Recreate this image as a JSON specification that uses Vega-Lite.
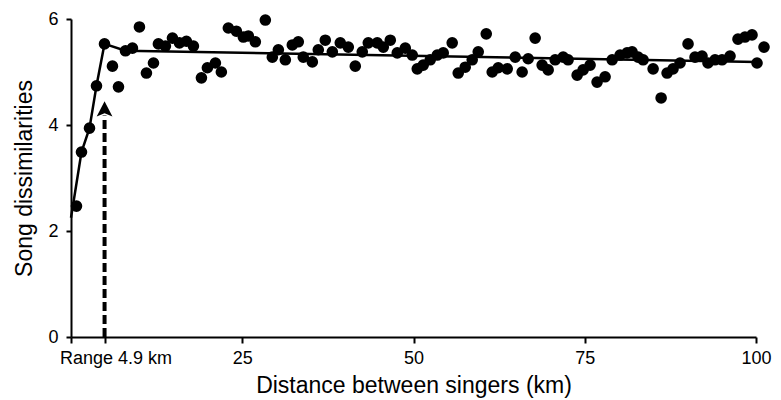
{
  "$schema": "https://vega.github.io/schema/vega-lite/v6.json",
  "width": 685,
  "height": 318,
  "autosize": "none",
  "padding": {"left": 71, "top": 19, "right": 25, "bottom": 63},
  "background": "white",
  "config": {
    "view": {"stroke": null},
    "font": "Liberation Sans"
  },
  "datasets": {
    "points": [
      {"d": 0.80, "s": 2.47}, {"d": 1.53, "s": 3.49}, {"d": 2.70, "s": 3.94}, {"d": 3.72, "s": 4.74},
      {"d": 4.89, "s": 5.53}, {"d": 6.05, "s": 5.11}, {"d": 6.93, "s": 4.72}, {"d": 7.95, "s": 5.40},
      {"d": 8.97, "s": 5.45}, {"d": 9.99, "s": 5.85}, {"d": 11.01, "s": 4.98}, {"d": 12.04, "s": 5.17},
      {"d": 12.76, "s": 5.53}, {"d": 13.78, "s": 5.49}, {"d": 14.81, "s": 5.64}, {"d": 15.83, "s": 5.55},
      {"d": 16.85, "s": 5.58}, {"d": 17.87, "s": 5.49}, {"d": 19.04, "s": 4.89}, {"d": 19.91, "s": 5.08},
      {"d": 21.08, "s": 5.17}, {"d": 21.95, "s": 5.00}, {"d": 22.97, "s": 5.83}, {"d": 24.14, "s": 5.77},
      {"d": 25.16, "s": 5.66}, {"d": 25.89, "s": 5.68}, {"d": 26.91, "s": 5.57}, {"d": 28.37, "s": 5.98},
      {"d": 29.39, "s": 5.28}, {"d": 30.27, "s": 5.42}, {"d": 31.29, "s": 5.23}, {"d": 32.31, "s": 5.51},
      {"d": 33.18, "s": 5.57}, {"d": 33.91, "s": 5.28}, {"d": 35.23, "s": 5.19}, {"d": 36.10, "s": 5.42},
      {"d": 37.12, "s": 5.60}, {"d": 38.15, "s": 5.38}, {"d": 39.31, "s": 5.55}, {"d": 40.48, "s": 5.47},
      {"d": 41.50, "s": 5.11}, {"d": 42.52, "s": 5.38}, {"d": 43.40, "s": 5.55}, {"d": 44.71, "s": 5.55},
      {"d": 45.59, "s": 5.47}, {"d": 46.61, "s": 5.60}, {"d": 47.63, "s": 5.36}, {"d": 48.80, "s": 5.45},
      {"d": 49.82, "s": 5.32}, {"d": 50.55, "s": 5.06}, {"d": 51.42, "s": 5.13}, {"d": 52.44, "s": 5.23},
      {"d": 53.47, "s": 5.32}, {"d": 54.34, "s": 5.36}, {"d": 55.65, "s": 5.55}, {"d": 56.53, "s": 4.98},
      {"d": 57.55, "s": 5.09}, {"d": 58.57, "s": 5.23}, {"d": 59.45, "s": 5.38}, {"d": 60.62, "s": 5.72},
      {"d": 61.49, "s": 5.00}, {"d": 62.37, "s": 5.08}, {"d": 63.68, "s": 5.06}, {"d": 64.85, "s": 5.28},
      {"d": 65.86, "s": 5.00}, {"d": 66.74, "s": 5.25}, {"d": 67.76, "s": 5.64}, {"d": 68.78, "s": 5.13},
      {"d": 69.66, "s": 5.04}, {"d": 70.68, "s": 5.23}, {"d": 71.85, "s": 5.28}, {"d": 72.57, "s": 5.23},
      {"d": 73.89, "s": 4.94}, {"d": 74.76, "s": 5.04}, {"d": 75.78, "s": 5.13}, {"d": 76.80, "s": 4.81},
      {"d": 77.97, "s": 4.91}, {"d": 79.00, "s": 5.23}, {"d": 80.16, "s": 5.32}, {"d": 81.18, "s": 5.36},
      {"d": 81.91, "s": 5.38}, {"d": 82.79, "s": 5.28}, {"d": 83.52, "s": 5.23}, {"d": 84.98, "s": 5.06},
      {"d": 86.15, "s": 4.51}, {"d": 87.02, "s": 4.98}, {"d": 87.89, "s": 5.06}, {"d": 88.91, "s": 5.17},
      {"d": 90.08, "s": 5.53}, {"d": 91.10, "s": 5.28}, {"d": 92.12, "s": 5.30}, {"d": 92.99, "s": 5.17},
      {"d": 94.02, "s": 5.23}, {"d": 95.04, "s": 5.23}, {"d": 96.21, "s": 5.30}, {"d": 97.37, "s": 5.62},
      {"d": 98.39, "s": 5.66}, {"d": 99.42, "s": 5.70}, {"d": 100.15, "s": 5.17}, {"d": 101.17, "s": 5.47}
    ],
    "fit": [
      {"d": 0.0, "s": 2.25}, {"d": 1.53, "s": 3.49}, {"d": 2.70, "s": 3.94}, {"d": 3.72, "s": 4.74},
      {"d": 4.89, "s": 5.53}, {"d": 7.95, "s": 5.40}, {"d": 100.15, "s": 5.19}
    ],
    "arrow": [
      {"d": 4.9, "s0": 0, "s1": 4.18, "head": 4.25}
    ]
  },
  "layer": [
    {
      "data": {"name": "fit"},
      "mark": {"type": "line", "color": "black", "strokeWidth": 2.5},
      "encoding": {
        "x": {"field": "d", "type": "quantitative", "scale": {"domain": [0, 100], "nice": false, "zero": false},
          "axis": {
            "values": [0, 4.9, 25, 50, 75, 100],
            "labelExpr": "datum.value == 4.9 ? 'Range 4.9 km' : (datum.value == 0 ? '' : datum.label)",
            "labelOffset": {"condition": {"test": "datum.value == 4.9", "value": 11}, "value": 0},
            "grid": false,
            "domainColor": "black", "domainWidth": 2,
            "tickColor": "black", "tickWidth": 2, "tickSize": 6,
            "labelFontSize": 18, "labelColor": "black", "labelPadding": 6, "labelFlush": false,
            "title": "Distance between singers (km)",
            "titleFontSize": 23, "titleFontWeight": "normal", "titleColor": "black", "titlePadding": 7
          }
        },
        "y": {"field": "s", "type": "quantitative", "scale": {"domain": [0, 6], "nice": false},
          "axis": {
            "values": [0, 2, 4, 6],
            "grid": false,
            "domainColor": "black", "domainWidth": 2,
            "tickColor": "black", "tickWidth": 2, "tickSize": 5,
            "labelFontSize": 18, "labelColor": "black", "labelPadding": 8,
            "title": "Song dissimilarities",
            "titleFontSize": 23, "titleFontWeight": "normal", "titleColor": "black", "titlePadding": 11
          }
        }
      }
    },
    {
      "data": {"name": "points"},
      "mark": {"type": "point", "shape": "circle", "filled": true, "color": "black", "opacity": 1, "size": 135},
      "encoding": {
        "x": {"field": "d", "type": "quantitative"},
        "y": {"field": "s", "type": "quantitative"}
      }
    },
    {
      "data": {"name": "arrow"},
      "mark": {"type": "rule", "color": "black", "strokeWidth": 4, "strokeDash": [9, 4]},
      "encoding": {
        "x": {"field": "d", "type": "quantitative"},
        "y": {"field": "s0", "type": "quantitative"},
        "y2": {"field": "s1"}
      }
    },
    {
      "data": {"name": "arrow"},
      "mark": {"type": "point", "shape": "M0,-1L0.75,0.45L0,0.15L-0.75,0.45Z", "filled": true, "color": "black", "opacity": 1, "size": 440},
      "encoding": {
        "x": {"field": "d", "type": "quantitative"},
        "y": {"field": "head", "type": "quantitative"}
      }
    }
  ]
}
